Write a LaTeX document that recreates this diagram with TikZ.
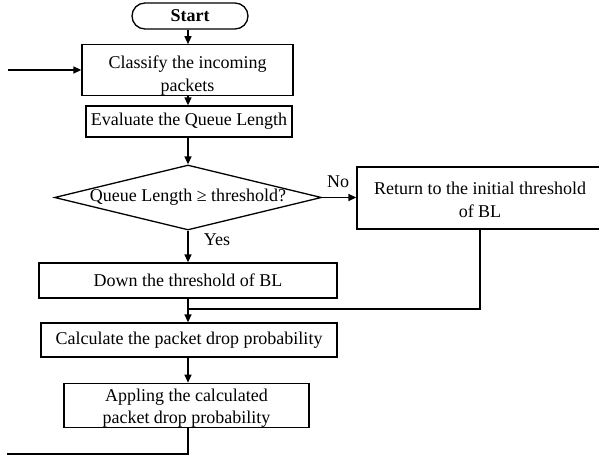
\documentclass[tikz,border=0pt]{standalone}
\usepackage{fontspec}
\setmainfont{Liberation Serif}
\usetikzlibrary{shapes.geometric,arrows.meta}
\begin{document}
\begin{tikzpicture}[x=1pt,y=-1pt,
  every node/.style={font=\fontsize{18}{22.5}\selectfont, inner sep=0pt},
  box/.style={draw, line width=1.3pt, rectangle, align=center},
  term/.style={draw, line width=1.3pt, rectangle, rounded corners=13pt},
  dec/.style={draw, line width=1.3pt, diamond, aspect=4.1},
  lbl/.style={font=\fontsize{18}{20}\selectfont},
  conn/.style={line width=1.3pt},
  arr/.style={conn, -{Triangle[length=8pt,width=7pt]}}]
\useasboundingbox (0,0) rectangle (599,455);
\coordinate (ax) at (188,0);
% nodes
\node[term, minimum width=116pt, minimum height=26pt, font=\fontsize{18}{20}\selectfont\bfseries] (start) at (190,16) {Start};
\node[box, minimum width=211pt, minimum height=44pt] (classify) at (187.5,70) {\rule{0pt}{24pt}Classify the incoming\\ packets};
\node[box, minimum width=206pt, minimum height=31pt] (evaluate) at (189,121.5) {Evaluate the Queue Length};
\node[dec, minimum width=267pt, minimum height=65pt] (dia) at (188,197.5) {Queue Length ≥ threshold?};
\node[box, minimum width=246pt, minimum height=62pt] (ret) at (480,198) {\rule{0pt}{16pt}Return to the initial threshold\\ of BL};
\node[box, minimum width=298pt, minimum height=35pt] (down) at (188,280.5) {Down the threshold of BL};
\node[box, minimum width=296pt, minimum height=34pt] (calc) at (189,340) {Calculate the packet drop probability};
\node[box, minimum width=245pt, minimum height=43pt] (appl) at (186.5,405.5) {\rule{0pt}{18pt}Appling the calculated\\ packet drop probability};
\node[lbl] (no) at (338,182) {No};
\node[lbl] (yes) at (217,240) {Yes};
\coordinate (in) at (8,70);
\coordinate (join) at (188,309);
\coordinate (out) at (7,454);
% connectors
\draw[arr] (start.south -| ax) -- (classify.north -| ax);
\draw[arr] (in) -- (classify.west |- in);
\draw[arr] (classify.south -| ax) -- (evaluate.north -| ax);
\draw[arr] (evaluate.south -| ax) -- (dia.north);
\draw[arr] (dia.east) -- (ret.west |- dia.east);
\draw[arr] (dia.south) -- (down.north -| dia.south);
\draw[arr] (down.south -| ax) -- (calc.north -| ax);
\draw[conn] (ret.south) |- (join);
\draw[arr] (calc.south -| ax) -- (appl.north -| ax);
\draw[conn] (appl.south -| ax) |- (out);
\end{tikzpicture}
\end{document}
